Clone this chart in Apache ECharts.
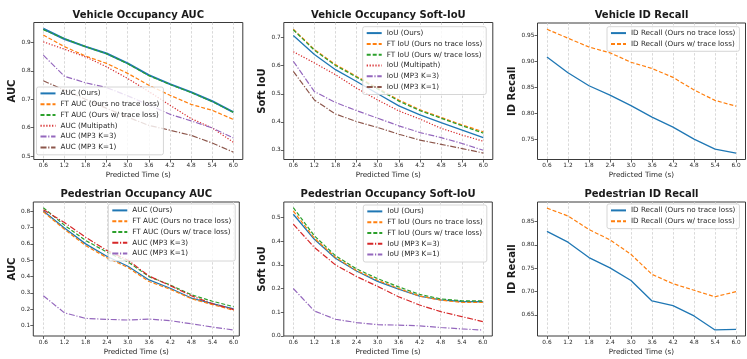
<!DOCTYPE html>
<html><head><meta charset="utf-8">
<script src="https://cdn.jsdelivr.net/npm/echarts@6/dist/echarts.min.js"></script>
<style>html,body{margin:0;padding:0;background:#fff}#c{width:747px;height:359px}</style>
</head><body><div id="c"></div>
<script>
const times = [0.6,1.2,1.8,2.4,3.0,3.6,4.2,4.8,5.4,6.0];

// Vehicle Occupancy AUC
const vAucOurs      = [0.948,0.912,0.885,0.861,0.826,0.785,0.753,0.725,0.693,0.655];
const vAucFtNoTrace = [0.926,0.885,0.852,0.826,0.791,0.749,0.714,0.682,0.661,0.629];
const vAucFtTrace   = [0.945,0.913,0.885,0.860,0.825,0.783,0.752,0.724,0.692,0.654];
const vAucMultipath = [0.902,0.876,0.849,0.814,0.773,0.727,0.679,0.632,0.599,0.549];
const vAucMp3K3     = [0.855,0.781,0.758,0.741,0.712,0.680,0.647,0.624,0.599,0.564];
const vAucMp3K1     = [0.765,0.732,0.700,0.668,0.637,0.608,0.591,0.573,0.546,0.514];

// Vehicle Occupancy Soft-IoU
const vIouOurs      = [0.708,0.640,0.586,0.544,0.500,0.457,0.425,0.397,0.371,0.344];
const vIouFtNoTrace = [0.730,0.658,0.604,0.562,0.520,0.478,0.443,0.416,0.389,0.365];
const vIouFtTrace   = [0.728,0.655,0.601,0.559,0.517,0.474,0.440,0.413,0.386,0.360];
const vIouMultipath = [0.650,0.610,0.568,0.520,0.478,0.439,0.410,0.377,0.353,0.331];
const vIouMp3K3     = [0.616,0.508,0.469,0.440,0.413,0.386,0.362,0.344,0.323,0.299];
const vIouMp3K1     = [0.580,0.478,0.428,0.401,0.380,0.356,0.335,0.320,0.305,0.289];

// Vehicle ID Recall
const vIdNoTrace = [0.908,0.878,0.853,0.835,0.815,0.793,0.774,0.751,0.732,0.724];
const vIdTrace   = [0.961,0.944,0.927,0.916,0.898,0.886,0.869,0.845,0.825,0.814];

// Pedestrian Occupancy AUC
const pAucOurs      = [0.802,0.697,0.600,0.524,0.463,0.379,0.328,0.268,0.233,0.201];
const pAucFtNoTrace = [0.797,0.689,0.590,0.516,0.455,0.369,0.322,0.264,0.227,0.193];
const pAucFtTrace   = [0.822,0.715,0.621,0.550,0.490,0.399,0.348,0.288,0.248,0.215];
const pAucMp3K3     = [0.810,0.731,0.641,0.560,0.500,0.403,0.344,0.282,0.233,0.197];
const pAucMp3K1     = [0.282,0.177,0.143,0.137,0.133,0.139,0.129,0.110,0.090,0.072];

// Pedestrian Occupancy Soft-IoU
const pIouOurs      = [0.514,0.408,0.328,0.274,0.230,0.197,0.168,0.152,0.145,0.144];
const pIouFtNoTrace = [0.528,0.413,0.332,0.276,0.235,0.200,0.168,0.151,0.141,0.141];
const pIouFtTrace   = [0.542,0.423,0.339,0.283,0.242,0.207,0.175,0.156,0.148,0.148];
const pIouMp3K3     = [0.472,0.374,0.300,0.251,0.209,0.165,0.130,0.102,0.081,0.060];
const pIouMp3K1     = [0.200,0.105,0.070,0.056,0.047,0.045,0.042,0.035,0.029,0.024];

// Pedestrian ID Recall
const pIdNoTrace = [0.829,0.806,0.773,0.751,0.724,0.680,0.670,0.648,0.618,0.619];
const pIdTrace   = [0.879,0.862,0.833,0.811,0.780,0.737,0.717,0.703,0.689,0.700];

// tick labels
const xTicks = times;
const yTicksVAuc = [0.5,0.6,0.7,0.8,0.9];
const yTicksVIou = [0.3,0.4,0.5,0.6,0.7];
const yTicksVId  = [0.75,0.80,0.85,0.90,0.95];
const yTicksPAuc = [0.1,0.2,0.3,0.4,0.5,0.6,0.7,0.8];
const yTicksPIou = [0.0,0.1,0.2,0.3,0.4,0.5];
const yTicksPId  = [0.65,0.70,0.75,0.80,0.85];

const C = {blue:'#1f77b4', orange:'#ff7f0e', green:'#2ca02c', red:'#d62728', purple:'#9467bd', brown:'#8c564b'};
const DASH = [4,2], DOT = [1.2,1.7], DASHDOT = [6,1.7,1.2,1.7];
const FONT = 'DejaVu Sans';

const panels = [
  {title:'Vehicle Occupancy AUC', yName:'AUC', grid:{left:33.8,top:22.5,width:209,height:137},
   xMin:0.33,xMax:6.27,yMin:0.488,yMax:0.970,yTicks:yTicksVAuc,yDec:1,nameGap:15,
   legend:{left:36.5,top:87},
   series:[
    ['AUC (Ours)',vAucOurs,C.blue,'solid',2],
    ['FT AUC (Ours no trace loss)',vAucFtNoTrace,C.orange,DASH,1.2],
    ['FT AUC (Ours w/ trace loss)',vAucFtTrace,C.green,DASH,1.2],
    ['AUC (Multipath)',vAucMultipath,C.red,DOT,1.2],
    ['AUC (MP3 K=3)',vAucMp3K3,C.purple,DASHDOT,1.2],
    ['AUC (MP3 K=1)',vAucMp3K1,C.brown,DASHDOT,1.2]]},
  {title:'Vehicle Occupancy Soft-IoU', yName:'Soft IoU', grid:{left:283.8,top:22.5,width:209,height:137},
   xMin:0.33,xMax:6.27,yMin:0.266,yMax:0.754,yTicks:yTicksVIou,yDec:1,nameGap:15,
   legend:{left:362.7,top:26.7},
   series:[
    ['IoU (Ours)',vIouOurs,C.blue,'solid',1.3],
    ['FT IoU (Ours no trace loss)',vIouFtNoTrace,C.orange,DASH,1.2],
    ['FT IoU (Ours w/ trace loss)',vIouFtTrace,C.green,DASH,1.2],
    ['IoU (Multipath)',vIouMultipath,C.red,DOT,1.2],
    ['IoU (MP3 K=3)',vIouMp3K3,C.purple,DASHDOT,1.2],
    ['IoU (MP3 K=1)',vIouMp3K1,C.brown,DASHDOT,1.2]]},
  {title:'Vehicle ID Recall', yName:'ID Recall', grid:{left:537.5,top:23,width:208,height:136.5},
   xMin:0.33,xMax:6.27,yMin:0.712,yMax:0.973,yTicks:yTicksVId,yDec:2,nameGap:20,
   legend:{left:607,top:26.7},
   series:[
    ['ID Recall (Ours no trace loss)',vIdNoTrace,C.blue,'solid',1.3],
    ['ID Recall (Ours w/ trace loss)',vIdTrace,C.orange,DASH,1.2]]},
  {title:'Pedestrian Occupancy AUC', yName:'AUC', grid:{left:33.3,top:202,width:206,height:134},
   xMin:0.316,xMax:6.16,yMin:0.035,yMax:0.857,yTicks:yTicksPAuc,yDec:1,nameGap:15,
   legend:{left:108.3,top:204},
   series:[
    ['AUC (Ours)',pAucOurs,C.blue,'solid',1.3],
    ['FT AUC (Ours no trace loss)',pAucFtNoTrace,C.orange,DASH,1.2],
    ['FT AUC (Ours w/ trace loss)',pAucFtTrace,C.green,DASH,1.2],
    ['AUC (MP3 K=3)',pAucMp3K3,C.red,DASHDOT,1.2],
    ['AUC (MP3 K=1)',pAucMp3K1,C.purple,DASHDOT,1.2]]},
  {title:'Pedestrian Occupancy Soft-IoU', yName:'Soft IoU', grid:{left:283.8,top:202,width:208.5,height:134},
   xMin:0.33,xMax:6.27,yMin:-0.001,yMax:0.566,yTicks:yTicksPIou,yDec:1,nameGap:15,
   legend:{left:363.3,top:205},
   series:[
    ['IoU (Ours)',pIouOurs,C.blue,'solid',1.3],
    ['FT IoU (Ours no trace loss)',pIouFtNoTrace,C.orange,DASH,1.2],
    ['FT IoU (Ours w/ trace loss)',pIouFtTrace,C.green,DASH,1.2],
    ['IoU (MP3 K=3)',pIouMp3K3,C.red,DASHDOT,1.2],
    ['IoU (MP3 K=1)',pIouMp3K1,C.purple,DASHDOT,1.2]]},
  {title:'Pedestrian ID Recall', yName:'ID Recall', grid:{left:537.5,top:202,width:208,height:134},
   xMin:0.33,xMax:6.27,yMin:0.605,yMax:0.892,yTicks:yTicksPId,yDec:2,nameGap:20,
   legend:{left:607,top:204},
   series:[
    ['ID Recall (Ours no trace loss)',pIdNoTrace,C.blue,'solid',1.3],
    ['ID Recall (Ours w/ trace loss)',pIdTrace,C.orange,DASH,1.2]]}
];

const option = {animation:false, backgroundColor:'#fff', title:[], grid:[], xAxis:[], yAxis:[], legend:[], series:[]};
panels.forEach((p,i)=>{
  const g = p.grid;
  option.grid.push({left:g.left, top:g.top, width:g.width, height:g.height, show:true, borderColor:'#3a3a3a', borderWidth:1, backgroundColor:'transparent', containLabel:false});
  option.title.push({text:p.title, left:g.left + g.width/2, top:g.top - 12.5, textAlign:'center', padding:0,
    textStyle:{fontFamily:FONT, fontSize:10, fontWeight:'bold', color:'#1a1a1a'}});
  option.xAxis.push({gridIndex:i, type:'value', min:p.xMin, max:p.xMax,
    name:'Predicted Time (s)', nameLocation:'middle', nameGap:12.5,
    nameTextStyle:{fontFamily:FONT, fontSize:7.2, color:'#262626'},
    axisLine:{show:false},
    axisTick:{show:true, length:3, customValues:xTicks, lineStyle:{color:'#3a3a3a', width:0.8}},
    axisLabel:{customValues:xTicks, formatter:v=>(+v).toFixed(1), fontFamily:FONT, fontSize:5.8, color:'#262626', margin:3},
    splitLine:{show:true, lineStyle:{color:'#cfcfcf', width:0.8, type:[2.5,1.8]}}});
  option.yAxis.push({gridIndex:i, type:'value', min:p.yMin, max:p.yMax,
    name:p.yName, nameLocation:'middle', nameGap:p.nameGap,
    nameTextStyle:{fontFamily:FONT, fontSize:10, fontWeight:'bold', color:'#1a1a1a'},
    axisLine:{show:false},
    axisTick:{show:true, length:3, customValues:p.yTicks, lineStyle:{color:'#3a3a3a', width:0.8}},
    axisLabel:{customValues:p.yTicks, formatter:v=>(+v).toFixed(p.yDec), fontFamily:FONT, fontSize:5.8, color:'#262626', margin:3},
    splitLine:{show:false}});
  const names = [];
  p.series.forEach(([name, vals, color, type, width])=>{
    const id = 'p'+i+'|'+name;
    names.push(id);
    option.series.push({type:'line', name:id, xAxisIndex:i, yAxisIndex:i,
      data: times.map((t,k)=>[t, vals[k]]),
      symbol:'none', showSymbol:false, silent:true,
      lineStyle:{color, width, type}, itemStyle:{color}});
  });
  option.legend.push({data:names, left:p.legend.left, top:p.legend.top, orient:'vertical',
    padding:[1,4,2,3], itemGap:0, itemWidth:15, itemHeight:10.8,
    backgroundColor:'rgba(255,255,255,0.8)', borderColor:'#cccccc', borderWidth:0.8, borderRadius:2,
    selectedMode:false,
    itemStyle:{color:'transparent', borderColor:'transparent', borderWidth:0, opacity:0},
    formatter:n=>n.split('|')[1],
    textStyle:{fontFamily:FONT, fontSize:7.2, color:'#262626', lineHeight:10.8}});
});

const chart = echarts.init(document.getElementById('c'), null, {renderer:'canvas'});
chart.setOption(option);
</script>
</body></html>
